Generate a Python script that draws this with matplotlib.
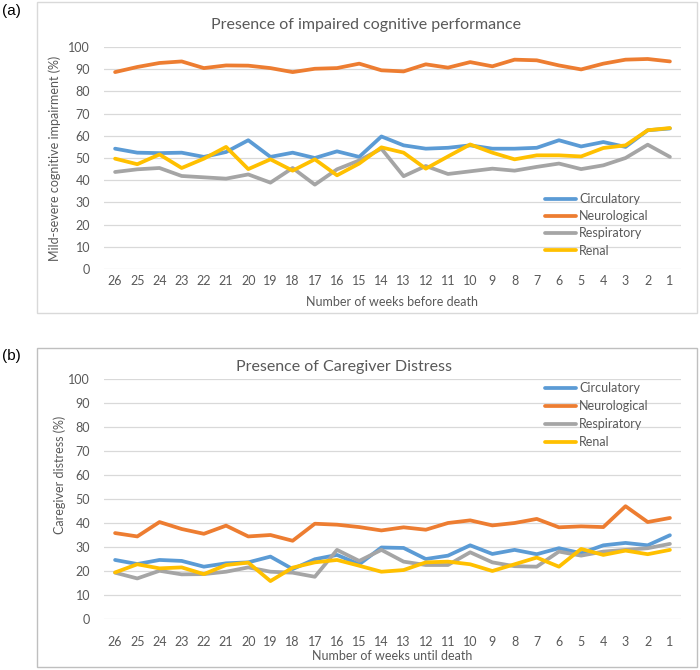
import matplotlib
matplotlib.use("Agg")
from matplotlib import pyplot as plt
from matplotlib.patches import Rectangle

plt.rcParams['font.family'] = ['Lato', 'DejaVu Sans']

weeks = [str(w) for w in range(26, 0, -1)]
groups = ['Circulatory', 'Neurological', 'Respiratory', 'Renal']
colors = ['#5B9BD5', '#ED7D31', '#A5A5A5', '#FFC000']

# (a) mild-severe cognitive impairment (%)
cog_circulatory = [54.2, 52.4, 52.2, 52.4, 50.5, 52.7, 58.0, 50.5, 52.4, 50.0, 53.0, 50.5, 59.7,
                   55.7, 54.2, 54.6, 55.7, 54.2, 54.2, 54.6, 58.0, 55.2, 57.2, 55.0, 62.5, 63.3]
cog_neurological = [88.7, 91.0, 92.8, 93.5, 90.5, 91.7, 91.6, 90.5, 88.7, 90.2, 90.5, 92.5, 89.5,
                    89.0, 92.2, 90.7, 93.2, 91.3, 94.3, 94.0, 91.7, 89.9, 92.5, 94.3, 94.6, 93.5]
cog_respiratory = [43.7, 44.9, 45.5, 41.9, 41.3, 40.7, 42.6, 38.9, 45.5, 38.0, 44.9, 48.9, 54.2,
                   41.8, 46.4, 42.8, 44.0, 45.2, 44.3, 46.0, 47.5, 45.0, 46.7, 50.0, 56.0, 50.5]
cog_renal = [49.7, 47.2, 51.6, 45.5, 49.7, 55.0, 45.0, 49.4, 44.3, 49.4, 42.2, 47.5, 54.8,
             52.4, 45.2, 50.7, 56.1, 52.4, 49.4, 51.2, 51.2, 50.7, 54.5, 55.7, 62.5, 63.5]

# (b) caregiver distress (%)
dis_circulatory = [24.6, 22.9, 24.6, 24.2, 21.8, 23.2, 23.6, 26.0, 20.8, 24.9, 26.7, 22.8, 29.8,
                   29.6, 25.0, 26.4, 30.7, 27.1, 28.8, 27.0, 29.5, 27.4, 30.7, 31.7, 30.7, 34.9]
dis_neurological = [35.8, 34.4, 40.4, 37.5, 35.5, 38.9, 34.4, 35.0, 32.6, 39.7, 39.3, 38.3, 36.9,
                    38.2, 37.2, 40.0, 41.1, 39.0, 40.0, 41.7, 38.2, 38.6, 38.3, 47.0, 40.4, 42.1]
dis_respiratory = [19.3, 16.9, 20.1, 18.6, 18.7, 19.7, 21.5, 19.7, 19.3, 17.6, 28.8, 24.2, 28.8,
                   23.9, 22.5, 22.5, 27.8, 23.6, 22.0, 21.8, 28.1, 26.4, 28.1, 28.8, 29.5, 31.3]
dis_renal = [19.4, 22.8, 21.1, 21.5, 18.7, 22.5, 23.5, 15.8, 21.4, 23.6, 24.6, 22.2, 19.7,
             20.4, 23.6, 23.9, 22.8, 20.0, 22.8, 25.6, 21.8, 29.2, 26.7, 28.5, 27.0, 28.8]

W, H = 700, 670
TXT = '#595959'
fig = plt.figure(figsize=(W / 100, H / 100), dpi=100)


def px(x, y):
    # pixel position (from top-left) to figure fraction
    return x / W, 1 - y / H


def panel(rect, series, ylabel, xlabel, title, title_xy, ylabel_xy, xlabel_y, tick_pad, leg_xy, leg_space):
    x0, ytop, x1, ybot = rect
    ax = fig.add_axes([x0 / W, 1 - ybot / H, (x1 - x0) / W, (ybot - ytop) / H])
    xs = range(len(weeks))
    for vals, name, c in zip(series, groups, colors):
        ax.plot(xs, vals, color=c, lw=2.7, label=name, solid_capstyle='round')
    ax.set_xlim(-0.5, len(weeks) - 0.5)
    ax.set_ylim(0, 100)
    ax.set_yticks(range(0, 101, 10))
    ax.set_xticks(list(xs))
    ax.set_xticklabels(weeks)
    ax.grid(axis='y', color='#D9D9D9', lw=0.9)
    ax.set_axisbelow(True)
    for s in ax.spines.values():
        s.set_visible(False)
    ax.tick_params(length=0, labelsize=9, labelcolor=TXT)
    ax.tick_params(axis='y', pad=10)
    ax.tick_params(axis='x', pad=tick_pad)
    ax.patch.set_alpha(0)
    fig.text(*px(*title_xy), title, ha='center', va='center', fontsize=11.5, color=TXT)
    fig.text(*px(*ylabel_xy), ylabel, ha='center', va='center', rotation=90, fontsize=9, color=TXT)
    fig.text(*px((x0 + x1) / 2, xlabel_y), xlabel, ha='center', va='center', fontsize=9, color=TXT)
    leg = ax.legend(loc='upper left', bbox_to_anchor=px(*leg_xy), bbox_transform=fig.transFigure,
                    frameon=False, fontsize=9, handlelength=2.5, handletextpad=0.25,
                    labelspacing=leg_space, borderpad=0, borderaxespad=0)
    for t in leg.get_texts():
        t.set_color(TXT)
    return ax


# chart frames
fig.add_artist(Rectangle(px(37, 313), 660 / W, 311 / H, transform=fig.transFigure,
                         fill=False, ec='#D9D9D9', lw=1))
fig.add_artist(Rectangle(px(37, 667), 660 / W, 319 / H, transform=fig.transFigure,
                         fill=False, ec='#BFBFBF', lw=1))

panel((104, 47, 681, 269),
      [cog_circulatory, cog_neurological, cog_respiratory, cog_renal],
      'Mild-severe cognitive impairment (%)', 'Number of weeks before death',
      'Presence of impaired cognitive performance', (366, 25), (55, 158), 302, 4,
      (545, 193), 0.42)

panel((104, 379, 681, 619),
      [dis_circulatory, dis_neurological, dis_respiratory, dis_renal],
      'Caregiver distress (%)', 'Number of weeks until death',
      'Presence of Caregiver Distress', (344, 367), (60, 475), 656, 12,
      (545, 382), 0.48)

fig.text(*px(2, 11), '(a)', ha='left', va='center', fontsize=11, family='Liberation Sans')
fig.text(*px(2, 356), '(b)', ha='left', va='center', fontsize=11, family='Liberation Sans')

fig.savefig('out.png', dpi=100)
